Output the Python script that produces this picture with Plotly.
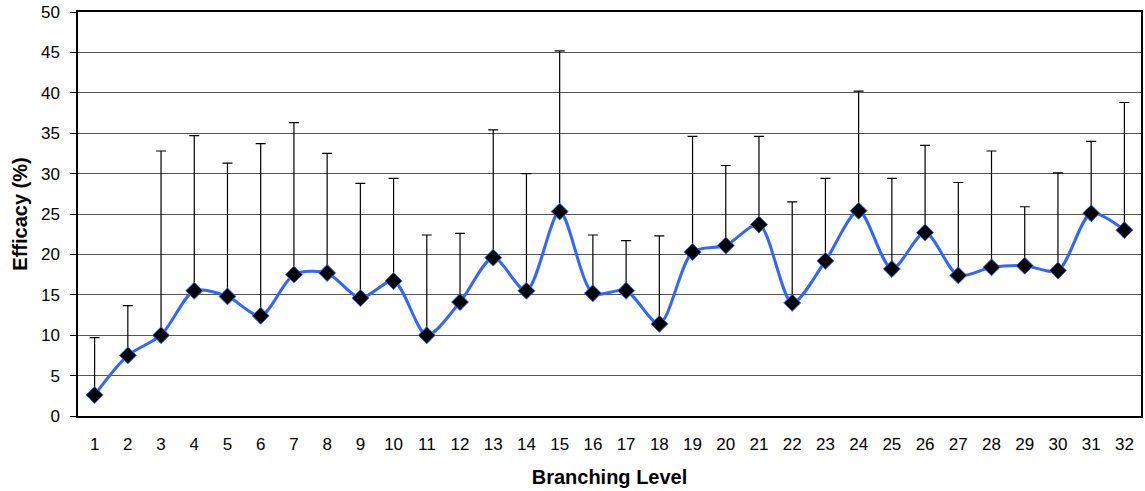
import plotly.graph_objects as go

levels = [str(i) for i in range(1, 33)]
efficacy = [2.6, 7.5, 10.0, 15.5, 14.8, 12.4, 17.5, 17.7, 14.6, 16.7,
            10.0, 14.1, 19.6, 15.5, 25.3, 15.2, 15.5, 11.4, 20.3, 21.1,
            23.7, 14.0, 19.2, 25.4, 18.2, 22.7, 17.4, 18.4, 18.6, 18.0,
            25.1, 23.0]
upper = [9.7, 13.65, 32.8, 34.7, 31.3, 33.7, 36.3, 32.5, 28.8, 29.4,
         22.4, 22.6, 35.4, 30.0, 45.2, 22.4, 21.7, 22.3, 34.6, 31.0,
         34.6, 26.5, 29.4, 40.2, 29.4, 33.5, 28.9, 32.8, 25.9, 30.1,
         34.0, 38.8]
err_plus = [u - v for u, v in zip(upper, efficacy)]

font_family = "Liberation Sans, Arial, sans-serif"

fig = go.Figure()
fig.add_trace(go.Scatter(
    x=levels, y=efficacy,
    mode="lines+markers",
    line=dict(color="#3366FF", width=3, shape="spline", smoothing=0.8),
    marker=dict(symbol="diamond", size=13, color="black",
                line=dict(color="#3366FF", width=1)),
    error_y=dict(type="data", symmetric=False, array=err_plus,
                 arrayminus=[0] * len(err_plus),
                 color="black", thickness=1.2, width=5),
    showlegend=False,
))

fig.update_layout(
    width=1145, height=491,
    margin=dict(l=78, r=2, t=12, b=75),
    paper_bgcolor="white", plot_bgcolor="white",
    font=dict(family=font_family, size=17, color="black"),
    xaxis=dict(
        type="category", range=[-0.5, 31.5],
        showline=True, linecolor="black", linewidth=1.5, mirror=True,
        showgrid=False, ticks="", tickfont=dict(size=17),
        ticklabelstandoff=12,
        title=dict(text="<b>Branching Level</b>", font=dict(size=20), standoff=17),
    ),
    yaxis=dict(
        range=[0, 50], dtick=5,
        showline=True, linecolor="black", linewidth=1.5, mirror=True,
        showgrid=True, gridcolor="#555555", gridwidth=1,
        ticks="outside", ticklen=6, tickcolor="black",
        tickfont=dict(size=17), ticklabelstandoff=7,
        zeroline=False,
        title=dict(text="<b>Efficacy (%)</b>", font=dict(size=20), standoff=8),
    ),
)

fig.write_html("out.html")
